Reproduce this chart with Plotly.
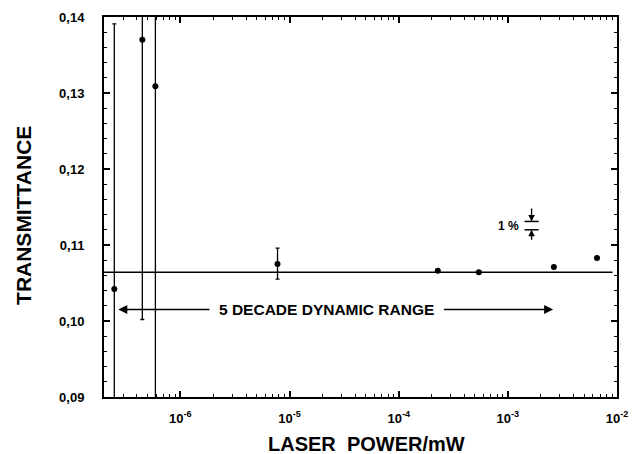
import numpy as np
import plotly.graph_objects as go

# data
power_mw = [2.48e-7, 4.48e-7, 5.9e-7, 7.76e-6, 2.28e-4, 5.42e-4, 2.64e-3, 6.56e-3]
transmittance = [0.1042, 0.1370, 0.1309, 0.1075, 0.1066, 0.1064, 0.1071, 0.1083]
err_plus = [0.0349, 0.0200, 0.0200, 0.0021, 0.0002, 0.0001, 0.0, 0.0]
err_minus = [0.0500, 0.0368, 0.0500, 0.0020, 0.0002, 0.0001, 0.0, 0.0]

mean_level = 0.1064
mean_x = [2.0e-7, 9.1e-3]

range_arrow_x = [2.7e-7, 2.6e-3]
range_arrow_y = 0.1015
range_text = "5 DECADE DYNAMIC RANGE"

pct_x = 1.65e-3
pct_levels = [0.1120, 0.1131]

y_ticks = [0.09, 0.10, 0.11, 0.12, 0.13, 0.14]
y_ticktext = ["0,09", "0,10", "0,11", "0,12", "0,13", "0,14"]
x_ticks = [1e-6, 1e-5, 1e-4, 1e-3, 1e-2]
x_ticktext = ["10<sup>-6</sup>", "10<sup>-5</sup>", "10<sup>-4</sup>", "10<sup>-3</sup>", "10<sup>-2</sup>"]

FONT = "Liberation Sans, Arial, sans-serif"

fig = go.Figure()

fig.add_trace(go.Scatter(
    x=mean_x, y=[mean_level, mean_level], mode="lines",
    line=dict(color="black", width=1.5), showlegend=False, hoverinfo="skip"))

fig.add_trace(go.Scatter(
    x=power_mw, y=transmittance, mode="markers",
    marker=dict(color="black", size=6),
    error_y=dict(type="data", array=err_plus, arrayminus=err_minus,
                 color="black", thickness=1.3, width=2),
    showlegend=False))

# dynamic range arrow line pieces
lx = np.log10(range_arrow_x)
text_left = -5.72
text_right = -3.60
fig.add_annotation(x=lx[0], y=range_arrow_y, ax=text_left, ay=range_arrow_y,
                   xref="x", yref="y", axref="x", ayref="y", text="",
                   showarrow=True, arrowhead=2, arrowsize=1.2, arrowwidth=1.5, arrowcolor="black")
fig.add_annotation(x=lx[1], y=range_arrow_y, ax=text_right, ay=range_arrow_y,
                   xref="x", yref="y", axref="x", ayref="y", text="",
                   showarrow=True, arrowhead=2, arrowsize=1.2, arrowwidth=1.5, arrowcolor="black")
fig.add_annotation(x=(text_left + text_right) / 2, y=range_arrow_y, xref="x", yref="y",
                   text="<b>" + range_text + "</b>", showarrow=False,
                   font=dict(family=FONT, size=15.5, color="black"))

# 1% marker
px = np.log10(pct_x)
for lv in pct_levels:
    fig.add_shape(type="line", xref="x", yref="y",
                  x0=pct_x / 1.16, x1=pct_x * 1.16, y0=lv, y1=lv,
                  line=dict(color="black", width=1.5))
fig.add_annotation(x=px, y=pct_levels[1], ax=px, ay=pct_levels[1] + 0.0019,
                   xref="x", yref="y", axref="x", ayref="y", text="",
                   showarrow=True, arrowhead=2, arrowsize=1, arrowwidth=1.3, arrowcolor="black")
fig.add_annotation(x=px, y=pct_levels[0], ax=px, ay=pct_levels[0] - 0.0015,
                   xref="x", yref="y", axref="x", ayref="y", text="",
                   showarrow=True, arrowhead=2, arrowsize=1, arrowwidth=1.3, arrowcolor="black")
fig.add_annotation(x=px - 0.1, y=(pct_levels[0] + pct_levels[1]) / 2, xref="x", yref="y",
                   xanchor="right", text="<b>1 %</b>", showarrow=False,
                   font=dict(family=FONT, size=12, color="black"))

# axis titles
fig.add_annotation(x=-0.156, y=0.479, xref="paper", yref="paper", textangle=-90,
                   xanchor="center", yanchor="middle",
                   text="<b>TRANSMITTANCE</b>", showarrow=False,
                   font=dict(family=FONT, size=21, color="black"))
fig.add_annotation(x=0.511, y=-0.124, xref="paper", yref="paper",
                   xanchor="center", yanchor="middle",
                   text="<b>LASER  POWER/mW</b>", showarrow=False,
                   font=dict(family=FONT, size=20, color="black"))

minor_x = [m * 10.0 ** e for e in range(-7, -2) for m in range(2, 10)]
minor_x = [v for v in minor_x if 2.0e-7 <= v <= 1e-2]

fig.update_xaxes(type="log", range=[-6.70, -2.0], automargin=False,
                 tickmode="array", tickvals=x_ticks, ticktext=x_ticktext,
                 ticks="inside", ticklen=6, tickwidth=1.5, tickcolor="black",
                 ticklabelstandoff=8,
                 showline=True, linecolor="black", linewidth=2, mirror="ticks",
                 showgrid=False, zeroline=False,
                 tickfont=dict(family=FONT, size=13, color="black", weight="bold"),
                 minor=dict(tickmode="array", tickvals=minor_x, ticks="inside",
                            ticklen=3, tickcolor="black", tickwidth=1, showgrid=False))
fig.update_yaxes(range=[0.09, 0.14], automargin=False,
                 tickmode="array", tickvals=y_ticks, ticktext=y_ticktext,
                 ticks="inside", ticklen=6, tickwidth=1.5, tickcolor="black",
                 ticklabelstandoff=15,
                 showline=True, linecolor="black", linewidth=2, mirror="ticks",
                 showgrid=False, zeroline=False,
                 tickfont=dict(family=FONT, size=13, color="black", weight="bold"),
                 minor=dict(dtick=0.002, ticks="inside", ticklen=3,
                            tickcolor="black", tickwidth=1, showgrid=False))

fig.update_layout(width=628, height=446,
                  margin=dict(l=96, r=19, t=9, b=57),
                  paper_bgcolor="white", plot_bgcolor="white",
                  font=dict(family=FONT, color="black"))

fig.write_html("out.html")
